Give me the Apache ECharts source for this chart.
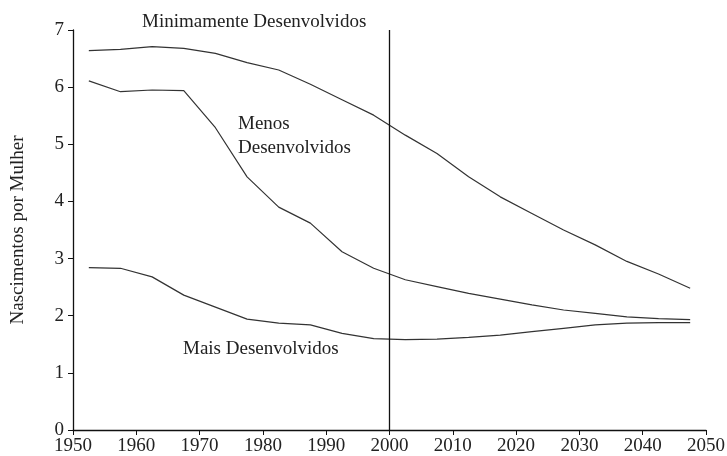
<!DOCTYPE html>
<html>
<head>
<meta charset="utf-8">
<script src="https://cdn.jsdelivr.net/npm/echarts@6/dist/echarts.min.js"></script>
<style>
  html, body { margin: 0; padding: 0; background: #fff; }
  #main { width: 727px; height: 456px; }
</style>
</head>
<body>
<div id="main"></div>
<script>
var chartDom = document.getElementById('main');
var myChart = echarts.init(chartDom);
var option;

// anos (pontos médios dos quinquênios)
var years = [1952.5, 1957.5, 1962.5, 1967.5, 1972.5, 1977.5, 1982.5, 1987.5, 1992.5, 1997.5,
             2002.5, 2007.5, 2012.5, 2017.5, 2022.5, 2027.5, 2032.5, 2037.5, 2042.5, 2047.5];

var minimamente = [6.64, 6.66, 6.71, 6.68, 6.59, 6.43, 6.30, 6.05, 5.78, 5.51,
                   5.16, 4.84, 4.43, 4.08, 3.79, 3.50, 3.24, 2.95, 2.73, 2.48];
var menos = [6.11, 5.92, 5.95, 5.94, 5.29, 4.43, 3.90, 3.62, 3.12, 2.83,
             2.63, 2.51, 2.39, 2.29, 2.19, 2.10, 2.04, 1.98, 1.95, 1.93];
var mais = [2.84, 2.83, 2.68, 2.36, 2.15, 1.94, 1.87, 1.84, 1.69, 1.60,
            1.58, 1.59, 1.62, 1.66, 1.72, 1.78, 1.84, 1.87, 1.88, 1.88];

var xTicks = [1950, 2050, 10];
var yTicks = [0, 7, 1];
var marcoAno = 2000;

var fonte = 'Liberation Serif';
var corLinha = '#333';

function pares(vals) {
    return years.map(function (y, i) { return [y, vals[i]]; });
}

function serie(nome, vals) {
    return {
        name: nome,
        type: 'line',
        data: pares(vals),
        showSymbol: false,
        symbol: 'none',
        lineStyle: { color: corLinha, width: 1.2 },
        silent: true
    };
}

var series = [
    serie('Minimamente Desenvolvidos', minimamente),
    serie('Menos Desenvolvidos', menos),
    serie('Mais Desenvolvidos', mais)
];

// linha vertical em 2000
series[0].markLine = {
    silent: true,
    symbol: ['none', 'none'],
    label: { show: false },
    lineStyle: { color: '#111', width: 1.3, type: 'solid' },
    data: [{ xAxis: marcoAno }]
};

var textoStyle = { fontFamily: fonte, fontSize: 19, fill: '#222' };

option = {
    animation: false,
    grid: { left: 73, top: 30, right: 21, bottom: 26, outerBoundsMode: 'none' },
    xAxis: {
        type: 'value',
        min: xTicks[0],
        max: xTicks[1],
        interval: xTicks[2],
        splitLine: { show: false },
        axisLine: { lineStyle: { color: '#111', width: 1.3 } },
        axisTick: { show: true, length: 5, lineStyle: { color: '#111' } },
        axisLabel: {
            color: '#222', fontFamily: fonte, fontSize: 19, margin: 7,
            showMinLabel: true, showMaxLabel: true,
            formatter: function (v) { return String(v); }
        }
    },
    yAxis: {
        type: 'value',
        min: yTicks[0],
        max: yTicks[1],
        interval: yTicks[2],
        name: 'Nascimentos por Mulher',
        nameLocation: 'middle',
        nameGap: 45,
        nameTextStyle: { color: '#222', fontFamily: fonte, fontSize: 19 },
        splitLine: { show: false },
        axisLine: { show: true, lineStyle: { color: '#111', width: 1.3 } },
        axisTick: { show: true, length: 5, lineStyle: { color: '#111' } },
        axisLabel: { color: '#222', fontFamily: fonte, fontSize: 19, margin: 9 }
    },
    graphic: [
        { type: 'text', left: 142, top: 13, style: Object.assign({ text: 'Minimamente Desenvolvidos' }, textoStyle) },
        { type: 'text', left: 238, top: 115, style: Object.assign({ text: 'Menos' }, textoStyle) },
        { type: 'text', left: 238, top: 139, style: Object.assign({ text: 'Desenvolvidos' }, textoStyle) },
        { type: 'text', left: 183, top: 340, style: Object.assign({ text: 'Mais Desenvolvidos' }, textoStyle) }
    ],
    series: series
};

option && myChart.setOption(option);
</script>
</body>
</html>
